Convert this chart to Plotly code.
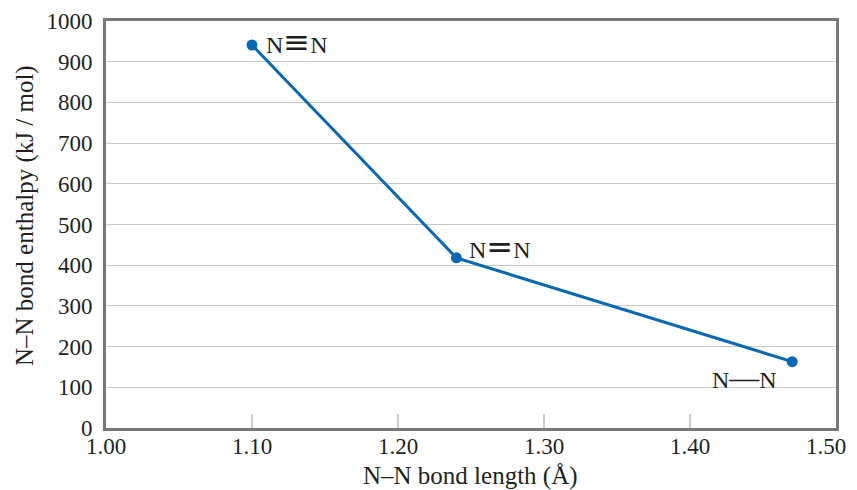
import plotly.graph_objects as go

bond_length = [1.10, 1.24, 1.47]
bond_enthalpy = [941, 418, 163]
bond_labels = [
    "N<span style='font-family:DejaVu Sans;font-size:32px'>\u2261</span>N",
    "N<span style='font-family:DejaVu Sans;font-size:32px'>=</span>N",
    "N<span style='font-size:30px'>\u2014</span>N",
]
x_ticks = [1.00, 1.10, 1.20, 1.30, 1.40, 1.50]
x_tick_labels = ["1.00", "1.10", "1.20", "1.30", "1.40", "1.50"]
y_ticks = [0, 100, 200, 300, 400, 500, 600, 700, 800, 900, 1000]

font_family = "Liberation Serif, DejaVu Serif, serif"
text_color = "#231f20"
blue = "#0a68b4"

# the page body has an 8px margin; compensate so the plot lands where the reference has it
BODY = 8
W, H = 857 - BODY, 490 - BODY
L, R, T = 106 - BODY, 21, 21 - BODY
PLOT_W, PLOT_H = 730, 407
B = H - T - PLOT_H


def px_to_paper_x(px):
    return (px - 106) / PLOT_W


def px_to_paper_y(py):
    return (428 - py) / PLOT_H


fig = go.Figure()
fig.add_trace(go.Scatter(
    x=bond_length, y=bond_enthalpy, mode="lines+markers",
    line=dict(color=blue, width=3),
    marker=dict(color=blue, size=11),
    showlegend=False, hoverinfo="skip",
))

# (xshift px, yshift px, xanchor)
offsets = [(12, 3, "left"), (11, 11, "left"), (-13, -16, "right")]
for (x, y, t, (dx, dy, xa)) in zip(bond_length, bond_enthalpy, bond_labels, offsets):
    fig.add_annotation(x=x, y=y, text=t, showarrow=False, xanchor=xa, yanchor="middle",
                       xshift=dx, yshift=dy,
                       font=dict(family=font_family, size=24, color=text_color))

# x tick labels placed on the x scale (last one kept inside the visible page)
for i, (xv, lab) in enumerate(zip(x_ticks, x_tick_labels)):
    last = i == len(x_ticks) - 1
    fig.add_annotation(x=xv, xref="x", yref="paper", y=px_to_paper_y(446), text=lab,
                       showarrow=False, xanchor="right" if last else "center",
                       xshift=12 if last else 0, yanchor="middle",
                       font=dict(family=font_family, size=23, color=text_color))

# axis titles as annotations for precise placement
fig.add_annotation(text="N\u2013N bond length (\u00c5)", xref="paper", yref="paper",
                   x=px_to_paper_x(470), y=px_to_paper_y(476), showarrow=False,
                   xanchor="center", yanchor="middle",
                   font=dict(family=font_family, size=25, color=text_color))
fig.add_annotation(text="N\u2013N bond enthalpy (kJ / mol)", xref="paper", yref="paper",
                   x=px_to_paper_x(25), y=px_to_paper_y(216), showarrow=False, textangle=-90,
                   xanchor="center", yanchor="middle",
                   font=dict(family=font_family, size=25, color=text_color))

fig.update_layout(
    width=W, height=H,
    margin=dict(l=L, r=R, t=T, b=B, autoexpand=False),
    paper_bgcolor="white", plot_bgcolor="white",
    font=dict(family=font_family, size=23, color=text_color),
)
fig.update_xaxes(
    range=[1.0, 1.5], tickvals=x_ticks, showticklabels=False,
    showgrid=False, ticks="inside", ticklen=14, tickcolor="#cccccc", tickwidth=1.5,
    showline=True, linecolor="#777777", linewidth=3, mirror=True,
    automargin=False, zeroline=False,
)
fig.update_yaxes(
    range=[0, 1000], tickvals=y_ticks,
    showgrid=True, gridcolor="#c8c8c8", gridwidth=1,
    showline=True, linecolor="#777777", linewidth=3, mirror=True,
    ticks="", ticklabelstandoff=6, automargin=False, zeroline=False,
)

fig.write_html("out.html")
